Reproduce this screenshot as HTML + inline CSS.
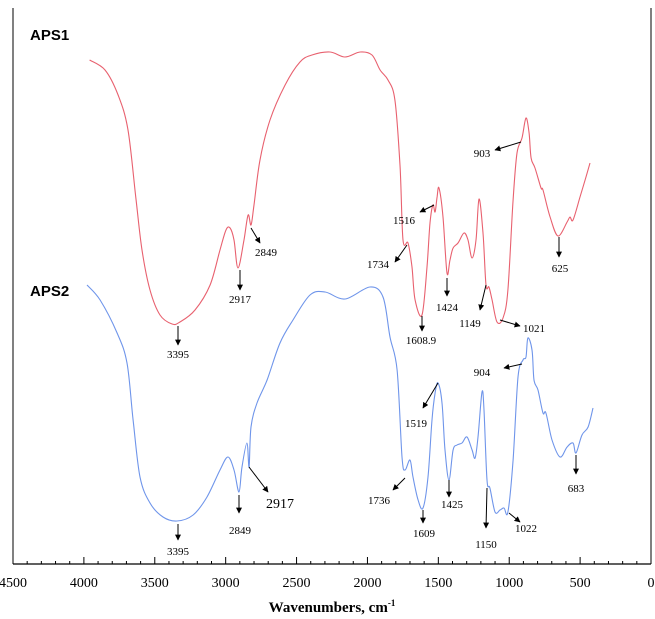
<!DOCTYPE html>
<html><head><meta charset="utf-8"><style>
body{margin:0;background:#fff;}
svg{display:block;font-family:"Liberation Serif",serif;}
</style></head><body>
<svg id="chart" width="655" height="619" viewBox="0 0 655 619" xmlns="http://www.w3.org/2000/svg">
<defs><marker id="ah" viewBox="0 0 10 10" refX="9" refY="5" markerWidth="6" markerHeight="6" orient="auto"><path d="M0,0 L10,5 L0,10 z" fill="#000"/></marker></defs>
<g id="axes"></g>
<g id="series"></g>
<g id="annots"></g>
<text x="30" y="40" font-family="Liberation Sans, sans-serif" font-weight="bold" font-size="15">APS1</text>
<text x="30" y="296" font-family="Liberation Sans, sans-serif" font-weight="bold" font-size="15">APS2</text>
<text x="332" y="612" text-anchor="middle" font-weight="bold" font-size="15">Wavenumbers, cm<tspan font-size="9" dy="-6">-1</tspan></text>
</svg>
<script>
const xTicks=[4500,4000,3500,3000,2500,2000,1500,1000,500,0];
const aps1Wave=[3960,3851,3759,3689,3632,3590,3534,3463,3378,3322,3216,3110,3040,2998,2969,2941,2913,2871,2842,2821,2800,2758,2687,2581,2476,2391,2264,2158,2052,1968,1911,1855,
1806,1770,1749,1714,1686,1664,1615,1580,1559,1538,1523,1509,1495,1467,1439,1418,1396,1361,1319,1291,1262,1234,1213,1185,1164,1143,1121,1086,1044,1009,973,945,910,882,860,846,818,776,762,712,656,592,571,550,501,465,430];
const aps1T=[504,494,469,434,364,314,274,249,240,242,254,279,314,334,336,324,296,324,349,339,359,404,444,479,502,509,512,507,512,509,494,484,
464,397,324,321,297,264,249,297,341,359,352,367,376,347,291,304,316,321,331,324,306,324,365,331,279,277,264,242,246,274,364,411,426,446,431,406,396,376,374,347,328,342,347,344,367,384,401];
const aps2Wave=[3978,3886,3766,3696,3653,3604,3534,3442,3343,3230,3132,3040,2984,2941,2906,2885,2850,2835,2821,2779,2708,2617,2525,2405,2299,2158,1982,1890,
1841,1791,1756,1735,1700,1679,1643,1608,1573,1545,1523,1502,1474,1453,1425,1396,1368,1333,1298,1262,1241,1220,1192,1178,1157,1136,1100,1065,1037,1009,973,938,903,882,868,839,825,797,762,741,698,642,592,550,529,487,444,409];
const aps2T=[279,264,231,201,144,87,61,47,43,49,67,94,107,94,72,97,121,97,137,161,184,221,244,269,272,265,277,267,
227,194,107,94,104,87,64,56,87,144,171,181,161,114,84,114,119,121,127,114,106,127,172,154,84,76,52,54,56,52,104,187,204,207,226,214,184,174,151,151,124,107,117,121,111,129,137,156];

const NS="http://www.w3.org/2000/svg";
const X0=13,X1=651,Y0=564;
function xs(w){return X1-(w/4500)*(X1-X0);}
function ys(t){return Y0-t;}
function mk(tag,attrs,parent){const e=document.createElementNS(NS,tag);for(const k in attrs)e.setAttribute(k,attrs[k]);parent.appendChild(e);return e;}
const axes=document.getElementById('axes');
let l=mk('line',{x1:X0,y1:Y0,x2:X1,y2:Y0,stroke:'#000','stroke-width':1.2},axes);


l=mk('line',{x1:X0,y1:8,x2:X0,y2:Y0,stroke:'#000','stroke-width':1},axes);


l=mk('line',{x1:X1,y1:8,x2:X1,y2:Y0,stroke:'#000','stroke-width':1},axes);


for(let w=0;w<=4500;w+=100){
  const major=w%500===0;
  const t=mk('line',{x1:xs(w),y1:Y0,x2:xs(w),y2:Y0-(major?7:3),stroke:'#000','stroke-width':1},axes);
  
  
}
xTicks.forEach(v=>{
  const t=mk('text',{x:xs(v),y:587,'text-anchor':'middle','font-size':14},axes);
  t.textContent=v;
  
  
});
const ser=document.getElementById('series');
function line(ws,ts,color,name){
  const P=ws.map((w,i)=>[xs(w),ys(ts[i])]);
  let d='M'+P[0][0].toFixed(1)+','+P[0][1].toFixed(1);
  for(let i=0;i<P.length-1;i++){
    const p0=P[Math.max(0,i-1)],p1=P[i],p2=P[i+1],p3=P[Math.min(P.length-1,i+2)];
    const c1=[p1[0]+(p2[0]-p0[0])/6,p1[1]+(p2[1]-p0[1])/6];
    const c2=[p2[0]-(p3[0]-p1[0])/6,p2[1]-(p3[1]-p1[1])/6];
    d+=' C'+c1[0].toFixed(1)+','+c1[1].toFixed(1)+' '+c2[0].toFixed(1)+','+c2[1].toFixed(1)+' '+p2[0].toFixed(1)+','+p2[1].toFixed(1);
  }
  const p=mk('path',{d:d,fill:'none',stroke:color,'stroke-width':1.1,'stroke-linejoin':'round'},ser);
  
  
}
line(aps1Wave,aps1T,'#e8616f','aps1-spectrum');
line(aps2Wave,aps2T,'#6f95ea','aps2-spectrum');
const ann=document.getElementById('annots');
const notes=[
 ['3395',178,358,178,326,178,345,11],['2917',240,303,240,270,240,290,11],['2849',266,256,251,228,260,243,11],
 ['1734',378,268,407,245,395,262,11],['1516',404,224,434,205,420,212,11],['1608.9',421,344,422,316,422,331,11],
 ['1424',447,311,447,278,447,296,11],['1149',470,327,486,285,480,310,11],['1021',534,332,500,320,520,326,11],
 ['903',482,157,521,142,495,150,11],['625',560,272,559,237,559,257,11],
 ['3395',178,555,178,524,178,540,11],['2849',240,534,239,495,239,513,11],['2917',280,508,249,467,268,492,14],
 ['1736',379,504,405,478,393,490,11],['1519',416,427,438,383,423,408,11],['1609',424,537,423,510,423,523,11],
 ['1425',452,508,449,480,449,497,11],['1150',486,548,487,488,486,528,11],['1022',526,532,509,513,520,522,11],
 ['904',482,376,522,364,504,368,11],['683',576,492,576,455,576,474,11]
];
notes.forEach(n=>{
  const a=mk('line',{x1:n[3],y1:n[4],x2:n[5],y2:n[6],stroke:'#000','stroke-width':1,'marker-end':'url(#ah)'},ann);
  
  
  const t=mk('text',{x:n[1],y:n[2],'text-anchor':'middle','font-size':n[7]},ann);
  t.textContent=n[0];
  
  
});
</script>
</body></html>
